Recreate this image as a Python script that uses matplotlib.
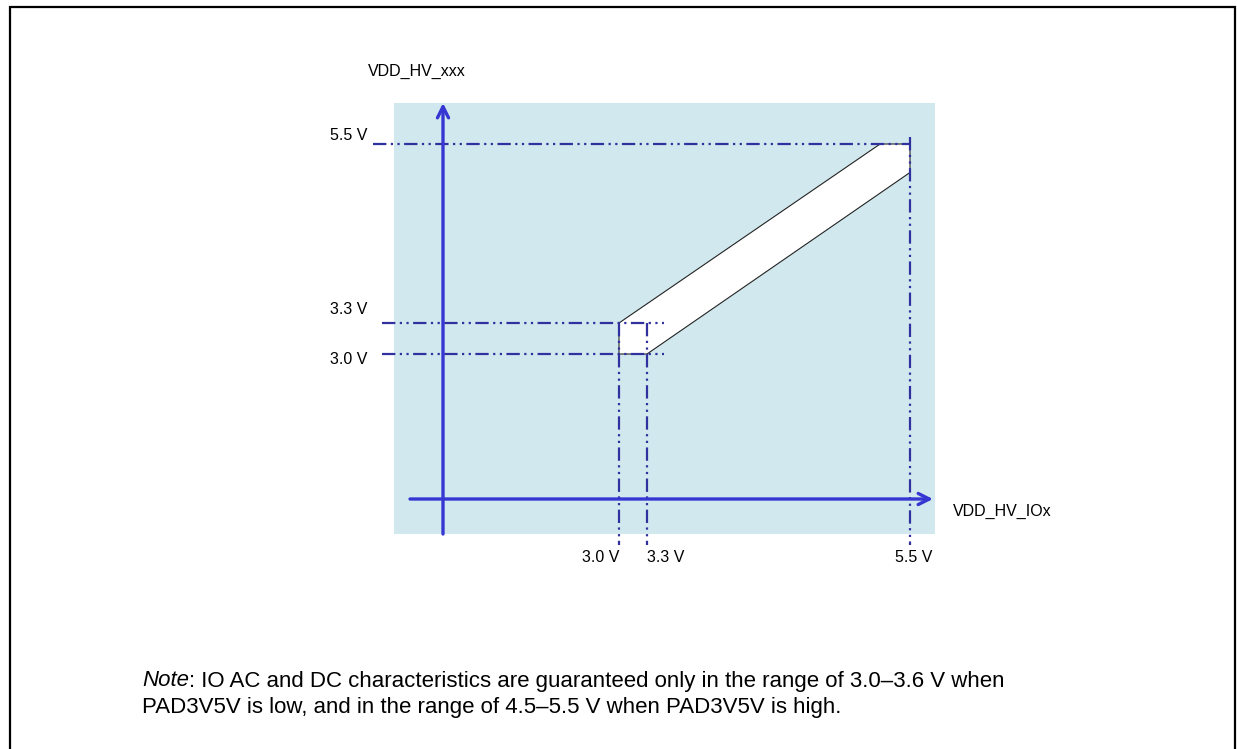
import matplotlib
matplotlib.use('Agg')
import matplotlib.pyplot as plt
from matplotlib.patches import Rectangle, Polygon
import numpy as np

# voltages shown on the two axes
x_tick_volts = [3.0, 3.3, 5.5]
x_tick_labels = ['3.0 V', '3.3 V', '5.5 V']
y_tick_volts = [3.0, 3.3, 5.5]
y_tick_labels = ['3.0 V', '3.3 V', '5.5 V']

# allowed operating region (VDD_HV_IOx, VDD_HV_xxx) corners
region_io = [3.0, 5.25, 5.5, 5.5, 3.3, 3.0]
region_hv = [3.3, 5.5, 5.5, 5.15, 3.0, 3.0]

x_title = 'VDD_HV_IOx'
y_title = 'VDD_HV_xxx'
note_head = 'Note'
note_line1 = ': IO AC and DC characteristics are guaranteed only in the range of 3.0\u20133.6 V when'
note_line2 = 'PAD3V5V is low, and in the range of 4.5\u20135.5 V when PAD3V5V is high.'

W, H = 1237, 749
AXIS_C = '#3636d2'
DASH_C = '#30309e'
DASH = (0, (6, 2, 1, 2, 1, 2))
plt.rcParams['font.family'] = ['Liberation Sans', 'DejaVu Sans']


def piecewise(volts, pix):
    # schematic (not to scale) axis: piecewise linear volts -> pixels
    volts = np.asarray(volts, float)
    pix = np.asarray(pix, float)

    def lin(v, a, b):
        v = np.asarray(v, float)
        out = np.interp(v, a, b)
        s0 = (b[1] - b[0]) / (a[1] - a[0])
        s1 = (b[-1] - b[-2]) / (a[-1] - a[-2])
        out = np.where(v < a[0], b[0] + (v - a[0]) * s0, out)
        out = np.where(v > a[-1], b[-1] + (v - a[-1]) * s1, out)
        return out

    return (lambda v: lin(v, volts, pix)), (lambda p: lin(p, pix, volts))


fx, ix = piecewise([0, 3.0, 3.3, 5.5], [443, 619, 647, 910])
fy, iy = piecewise([0, 3.0, 3.3, 5.5], [H - 499, H - 354, H - 323, H - 144])


def px(x=None, y=None):
    # pixel position of the original drawing -> volts
    if y is None:
        return float(ix(x))
    if x is None:
        return float(iy(H - y))
    return float(ix(x)), float(iy(H - y))


fig = plt.figure(figsize=(W / 100, H / 100), dpi=100)
ax = fig.add_axes([0, 0, 1, 1])
ax.set_xscale('function', functions=(fx, ix))
ax.set_yscale('function', functions=(fy, iy))
ax.set_xlim(px(0), px(W))
ax.set_ylim(px(y=H), px(y=0))
ax.axis('off')

# page frame
fig.patches.append(Rectangle((10 / W, -0.02), (1235 - 10) / W, 1.02 - 7 / H,
                             transform=fig.transFigure, fill=False,
                             edgecolor='black', lw=1.6))

# shaded diagram area
x0, y0 = px(394, 534)
x1, y1 = px(935, 103)
ax.add_patch(Rectangle((x0, y0), x1 - x0, y1 - y0, facecolor='#d1e9ee',
                       edgecolor='none', zorder=0))

# operating region
ax.add_patch(Polygon(np.column_stack([region_io, region_hv]), closed=True,
                     facecolor='white', edgecolor='#222222', lw=0.8, zorder=2))

# reference lines
for v in y_tick_volts:
    if v == max(y_tick_volts):
        ax.plot([px(373), v], [v, v], color=DASH_C, lw=1.6, ls=DASH, zorder=3)
    else:
        ax.plot([px(382), px(664)], [v, v], color=DASH_C, lw=1.6, ls=DASH, zorder=3)
for v in x_tick_volts:
    top = px(y=137) if v == max(x_tick_volts) else max(y_tick_volts[:2])
    ax.plot([v, v], [top, px(y=545)], color=DASH_C, lw=1.6, ls=DASH, zorder=3)

# axes arrows
arrow = dict(arrowstyle='->', color=AXIS_C, lw=2.4, mutation_scale=20,
             shrinkA=0, shrinkB=0)
ax.annotate('', xy=(px(933), 0), xytext=(px(410), 0), arrowprops=arrow, zorder=4)
ax.annotate('', xy=(0, px(y=103)), xytext=(0, px(y=534)), arrowprops=arrow, zorder=4)

# tick labels
y_offsets = [-6, 13, 8]
for v, lab, off in zip(y_tick_volts, y_tick_labels, y_offsets):
    ax.annotate(lab, xy=(px(367), v), xytext=(0, off), textcoords='offset pixels',
                ha='right', va='center', fontsize=11.5)
x_align = ['right', 'left', 'center']
x_shift = [0, 0, 4]
for v, lab, ha, sh in zip(x_tick_volts, x_tick_labels, x_align, x_shift):
    ax.annotate(lab, xy=(v, px(y=557)), xytext=(sh, 0), textcoords='offset pixels',
                ha=ha, va='center', fontsize=11.5)

ax.text(*px(953, 511), x_title, ha='left', va='center', fontsize=11.5)
ax.text(*px(368, 71), y_title, ha='left', va='center', fontsize=11.5)

# note below the diagram
t = fig.text(142 / W, 1 - 681 / H, note_head, style='italic', fontsize=16,
             ha='left', va='center')
ax.annotate(note_line1, xy=(1, 0), xycoords=t, ha='left', va='bottom', fontsize=16)
fig.text(142 / W, 1 - 707 / H, note_line2, fontsize=16, ha='left', va='center')

fig.savefig('out.png', dpi=100)
